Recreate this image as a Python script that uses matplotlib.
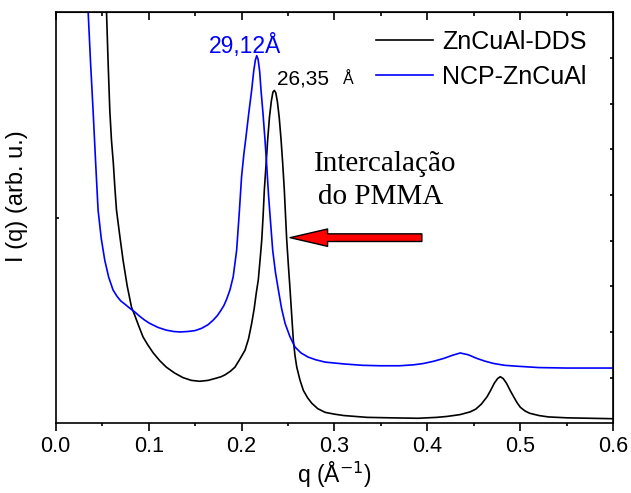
import matplotlib
matplotlib.use("Agg")
import matplotlib.pyplot as plt
from matplotlib.ticker import MultipleLocator, NullFormatter

plt.rcParams['font.family'] = ['Liberation Sans', 'DejaVu Sans']

# ZnCuAl-DDS (black)
q_dds = [0.0530, 0.0546, 0.0564, 0.0582, 0.0600, 0.0620, 0.0637, 0.0654, 0.0690, 0.0725,
         0.0770, 0.0816, 0.0850, 0.0890, 0.0940, 0.0990, 0.1050, 0.1120, 0.1190, 0.1280,
         0.1370, 0.1460, 0.1550, 0.1640, 0.1730, 0.1780, 0.1821, 0.1880, 0.1929, 0.1980,
         0.2037, 0.2075, 0.2109, 0.2135, 0.2158, 0.2180, 0.2200, 0.2217, 0.2232, 0.2245,
         0.2263, 0.2281, 0.2300, 0.2320, 0.2337, 0.2352, 0.2368, 0.2385, 0.2405, 0.2425,
         0.2443, 0.2460, 0.2473, 0.2486, 0.2504, 0.2522, 0.2540, 0.2557, 0.2575, 0.2594,
         0.2628, 0.2665, 0.2710, 0.2755, 0.2820, 0.2899, 0.3000, 0.3100, 0.3350, 0.3600,
         0.3900, 0.4100, 0.4210, 0.4350, 0.4460, 0.4520, 0.4580, 0.4641, 0.4680, 0.4720,
         0.4755, 0.4784, 0.4815, 0.4850, 0.4890, 0.4928, 0.4965, 0.5000, 0.5050, 0.5100,
         0.5200, 0.5300, 0.5500, 0.5750, 0.6000]
i_dds = [9.80, 9.06, 7.90, 6.86, 6.20, 5.70, 5.15, 4.67, 4.10, 3.57,
         3.00, 2.54, 2.37, 2.15, 1.89, 1.72, 1.54, 1.37, 1.23, 1.10,
         1.00, 0.94, 0.92, 0.94, 0.99, 1.02, 1.06, 1.14, 1.23, 1.40,
         1.60, 1.85, 2.19, 2.50, 2.85, 3.14, 3.60, 4.01, 4.55, 5.11,
         5.65, 6.21, 6.70, 7.05, 7.25, 7.29, 7.24, 7.05, 6.70, 6.21,
         5.68, 5.11, 4.55, 4.01, 3.45, 2.92, 2.35, 1.82, 1.48, 1.23,
         0.95, 0.72, 0.56, 0.44, 0.32, 0.24, 0.20, 0.17, 0.13, 0.12,
         0.11, 0.13, 0.15, 0.19, 0.25, 0.31, 0.42, 0.58, 0.72, 0.88,
         0.98, 1.02, 0.98, 0.88, 0.72, 0.58, 0.45, 0.35, 0.27, 0.22,
         0.17, 0.14, 0.12, 0.11, 0.10]

# NCP-ZnCuAl (blue)
q_ncp = [0.0330, 0.0348, 0.0375, 0.0402, 0.0430, 0.0456, 0.0490, 0.0528, 0.0570, 0.0617,
         0.0660, 0.0700, 0.0750, 0.0797, 0.0850, 0.0900, 0.0950, 0.1010, 0.1100, 0.1190,
         0.1270, 0.1340, 0.1420, 0.1500, 0.1570, 0.1640, 0.1695, 0.1740, 0.1780, 0.1810,
         0.1840, 0.1875, 0.1910, 0.1947, 0.1975, 0.2000, 0.2025, 0.2044, 0.2078, 0.2109,
         0.2130, 0.2148, 0.2163, 0.2178, 0.2195, 0.2209, 0.2230, 0.2252, 0.2272, 0.2290,
         0.2312, 0.2335, 0.2365, 0.2396, 0.2430, 0.2468, 0.2520, 0.2575, 0.2640, 0.2716,
         0.2800, 0.2899, 0.3000, 0.3100, 0.3300, 0.3490, 0.3700, 0.3850, 0.3958, 0.4070,
         0.4174, 0.4270, 0.4353, 0.4440, 0.4533, 0.4620, 0.4712, 0.4830, 0.4965, 0.5200,
         0.5500, 0.6000]
i_ncp = [9.80, 9.06, 7.90, 6.86, 5.70, 4.67, 4.05, 3.57, 3.20, 2.92,
         2.78, 2.68, 2.60, 2.52, 2.44, 2.35, 2.27, 2.19, 2.10, 2.04,
         2.01, 2.00, 2.01, 2.03, 2.08, 2.16, 2.26, 2.36, 2.48, 2.58,
         2.72, 2.92, 3.21, 3.79, 4.60, 5.40, 5.90, 6.21, 6.80, 7.30,
         7.70, 7.95, 8.05, 7.97, 7.70, 7.30, 6.80, 6.21, 5.60, 5.00,
         4.40, 3.79, 3.30, 2.92, 2.52, 2.19, 1.90, 1.67, 1.54, 1.45,
         1.39, 1.34, 1.32, 1.30, 1.27, 1.26, 1.26, 1.28, 1.31, 1.36,
         1.42, 1.49, 1.54, 1.50, 1.42, 1.36, 1.31, 1.27, 1.25, 1.22,
         1.21, 1.21]

labels = ['ZnCuAl-DDS', 'NCP-ZnCuAl']
x_ticks = [0.0, 0.1, 0.2, 0.3, 0.4, 0.5, 0.6]

W, H = 631, 493
fig = plt.figure(figsize=(W / 100, H / 100), dpi=100)
L, R, T, B = 55.7, 613.3, 12.3, 423.3
ax = fig.add_axes([L / W, 1 - B / H, (R - L) / W, (B - T) / H])

ax.plot(q_dds, i_dds, color='black', lw=1.2, label=labels[0])
ax.plot(q_ncp, i_ncp, color='#0000ff', lw=1.2, label=labels[1])

ax.set_xlim(0, 0.6)
ax.set_ylim(0, 9)

for s in ax.spines.values():
    s.set_linewidth(1.2)

ax.set_xticks(x_ticks)
ax.set_xticklabels([f'{v:.1f}' for v in x_ticks])
ax.xaxis.set_minor_locator(MultipleLocator(0.05))
ax.tick_params(axis='x', which='major', direction='out', length=5.8, width=1.2,
               labelsize=15.5, pad=3, top=False)
ax.tick_params(axis='x', which='minor', direction='out', length=2.2, width=1.2, top=False)
ax.set_yticks([4.5])
ax.yaxis.set_major_formatter(NullFormatter())
ax.tick_params(axis='y', which='major', direction='in', length=2.5, width=1.2, right=False)

top = ax.secondary_xaxis('top')
top.set_xticks(x_ticks)
top.xaxis.set_minor_locator(MultipleLocator(0.05))
top.tick_params(which='major', direction='in', length=5.8, width=1.2, labeltop=False)
top.tick_params(which='minor', direction='in', length=2.9, width=1.2)
top.xaxis.set_major_formatter(NullFormatter())

right = ax.secondary_yaxis('right')
right.set_yticks([1, 2, 3, 4, 5, 6, 7, 8])
right.tick_params(which='major', direction='in', length=2.5, width=1.2, labelright=False)
right.yaxis.set_major_formatter(NullFormatter())

ax.set_xlabel('q (Å$^{-1}$)', fontsize=16.5, labelpad=2)
ax.set_ylabel('I (q) (arb. u.)', fontsize=17)
ax.yaxis.set_label_coords(-0.05, 0.553)

# peak labels
ax.text(0.165, 8.115, '29,12Å', color='#0000ff', fontsize=16.5, ha='left', va='baseline')
ax.text(0.2385, 7.42, '26,35', color='black', fontsize=15, ha='left', va='baseline')
ax.text(0.3093, 7.42, 'Å', color='black', fontsize=11.5, ha='left', va='baseline')

# annotation
ax.text(0.3545, 5.52, 'Intercalação', fontsize=21, ha='center', va='baseline',
        family=['Liberation Serif', 'DejaVu Serif'])
ax.text(0.350, 4.80, 'do PMMA', fontsize=21, ha='center', va='baseline',
        family=['Liberation Serif', 'DejaVu Serif'])
ax.annotate('', xy=(0.2522, 4.065), xytext=(0.394, 4.065),
            arrowprops=dict(arrowstyle='simple,head_length=2.7,head_width=1.25,tail_width=0.55',
                            fc='red', ec='black', lw=1.0, shrinkA=0, shrinkB=0,
                            mutation_scale=10))

leg = ax.legend(loc='upper left', bbox_to_anchor=(0.574, 0.957), frameon=False,
                fontsize=18, handlelength=2.3, handletextpad=0.35, labelspacing=0.45,
                borderpad=0, borderaxespad=0)
for h in leg.get_lines():
    h.set_linewidth(1.2)

fig.savefig('out.png', dpi=100)
